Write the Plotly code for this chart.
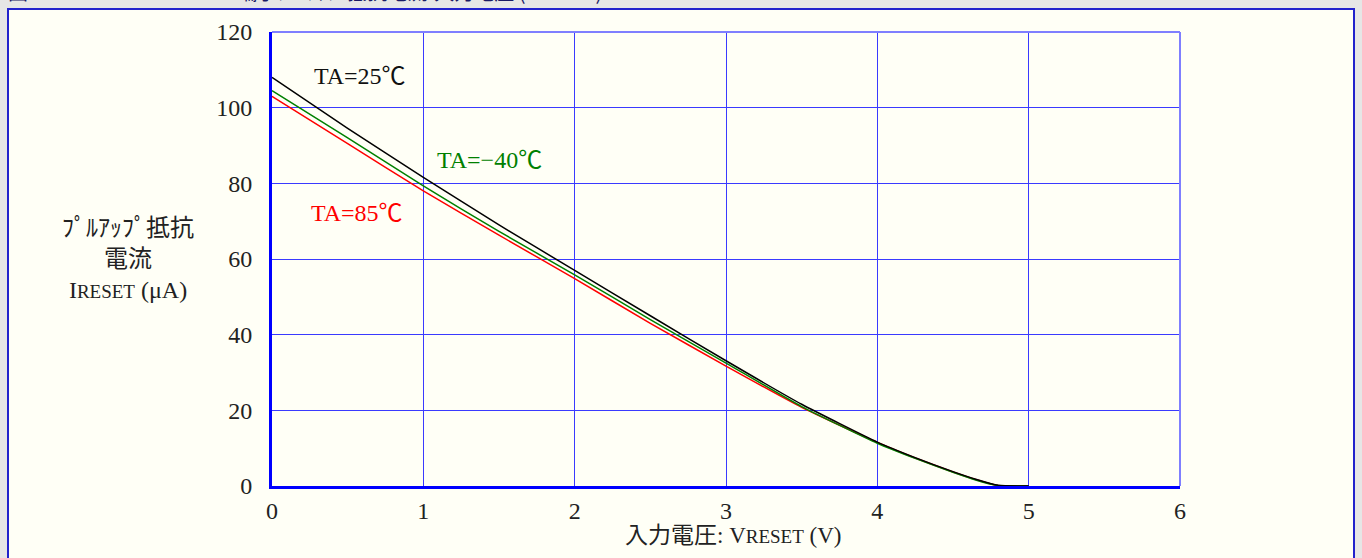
import plotly.graph_objects as go

# Input voltage (V) and pull-up resistor current (uA) for three ambient temperatures
v_reset = [0, 0.5, 1, 1.5, 2, 2.5, 3, 3.5, 4, 4.25, 4.5, 4.65, 4.8, 5]
i_25c = [108, 94.5, 81.6, 69.0, 57.0, 45.0, 33.1, 21.6, 11.6, 7.5, 3.8, 1.8, 0.2, 0]
i_m40c = [104.5, 92.0, 79.3, 67.3, 55.8, 44.0, 32.5, 21.0, 11.3, 7.3, 3.6, 1.6, 0.1, 0]
i_85c = [103.0, 90.5, 78.0, 66.3, 54.8, 43.0, 31.7, 20.8, 11.5, 7.4, 3.7, 1.7, 0.1, 0]

x_ticks = [0, 1, 2, 3, 4, 5, 6]
y_ticks = [0, 20, 40, 60, 80, 100, 120]

W, H = 1362, 558
L, R, T, B = 272, 1180, 32, 486
PW, PH = R - L, B - T


def px(x):
    return (x - L) / PW


def py(y):
    return (B - y) / PH


SERIF = "Liberation Serif, Noto Sans CJK JP, serif"

fig = go.Figure()
for vals, color in [(i_85c, "#ff0000"), (i_m40c, "#008000"), (i_25c, "#000000")]:
    fig.add_trace(go.Scatter(
        x=v_reset, y=vals, mode="lines",
        line=dict(color=color, width=1.5, shape="spline", smoothing=0.5),
        showlegend=False, hoverinfo="skip",
    ))

shapes = [
    # cream panel with blue frame
    dict(type="rect", xref="paper", yref="paper", layer="below",
         x0=px(8), x1=px(1354), y0=py(600), y1=py(9),
         fillcolor="#fffff6", line=dict(color="#2222cc", width=2)),
    # lighter top and right plot border
    dict(type="line", xref="paper", yref="paper", x0=0, x1=1, y0=1, y1=1,
         line=dict(color="#7f7fff", width=2)),
    dict(type="line", xref="paper", yref="paper", x0=1, x1=1, y0=0, y1=1,
         line=dict(color="#7f7fff", width=2)),
]

annotations = [
    dict(text="図 18-7　　　　　 RESET端子ﾌﾟﾙｱｯﾌﾟ抵抗電流-入力電圧 (VCC=5V)",
         xref="paper", yref="paper", x=px(6), y=py(8),
         xanchor="left", yanchor="bottom", showarrow=False,
         font=dict(family="Noto Sans CJK JP", size=20, color="#1a1a66")),
    dict(text="ﾌﾟﾙｱｯﾌﾟ抵抗<br>電流<br>I<span style='font-size:19px'>RESET</span> (μA)",
         xref="paper", yref="paper", x=px(128), y=py(259),
         xanchor="center", yanchor="middle", showarrow=False, align="center",
         font=dict(family=SERIF, size=24, color="#222222")),
    dict(text="入力電圧: V<span style='font-size:19px'>RESET</span> (V)",
         xref="paper", yref="paper", x=px(733), y=py(535),
         xanchor="center", yanchor="middle", showarrow=False,
         font=dict(family=SERIF, size=23, color="#222222")),
    dict(text="TA=25℃", xref="paper", yref="paper", x=px(360), y=py(76),
         xanchor="center", yanchor="middle", showarrow=False,
         font=dict(family=SERIF, size=24, color="#111111")),
    dict(text="TA=−40℃", xref="paper", yref="paper", x=px(489), y=py(160),
         xanchor="center", yanchor="middle", showarrow=False,
         font=dict(family=SERIF, size=24, color="#008000")),
    dict(text="TA=85℃", xref="paper", yref="paper", x=px(357), y=py(213),
         xanchor="center", yanchor="middle", showarrow=False,
         font=dict(family=SERIF, size=24, color="#ff0000")),
]

fig.update_layout(
    width=W, height=H,
    margin=dict(l=L, r=W - R, t=T, b=H - B, autoexpand=False),
    paper_bgcolor="#e6e6e6",
    plot_bgcolor="rgba(0,0,0,0)",
    shapes=shapes,
    annotations=annotations,
    xaxis=dict(range=[0, 6], tickvals=x_ticks, ticktext=[str(t) for t in x_ticks],
               showgrid=True, gridcolor="#3a3aff", gridwidth=1,
               zeroline=False, showline=True, linecolor="#0000ff", linewidth=3,
               ticks="", ticklabelstandoff=1,
               tickfont=dict(family=SERIF, size=24, color="#222222")),
    yaxis=dict(range=[0, 120], tickvals=y_ticks, ticktext=[str(t) for t in y_ticks],
               showgrid=True, gridcolor="#3a3aff", gridwidth=1,
               zeroline=False, showline=True, linecolor="#0000ff", linewidth=3,
               ticks="", ticklabelstandoff=12,
               tickfont=dict(family=SERIF, size=24, color="#222222")),
)

fig.write_html("out.html")
